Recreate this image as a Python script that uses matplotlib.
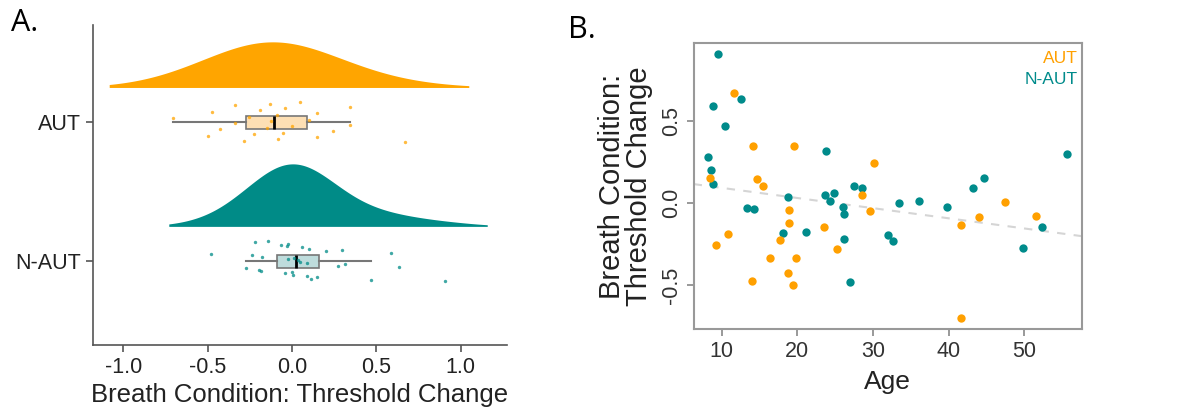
import matplotlib
matplotlib.use("Agg")
import matplotlib.pyplot as plt
import numpy as np

plt.rcParams["font.family"] = ["Liberation Sans", "DejaVu Sans"]

ORANGE = "#FFA500"
TEAL = "#008B87"

groups = ["N-AUT", "AUT"]

# threshold change per participant, with age
aut_age = [11.6, 14.1, 19.6, 30.1, 8.45, 14.7, 15.5, 28.6, 47.4, 18.9, 29.6, 44.0, 51.5,
           18.9, 41.7, 23.5, 10.8, 17.7, 9.2, 25.3, 16.45, 19.8, 18.8, 14.0, 19.4, 41.7]
aut_change = [0.669, 0.343, 0.347, 0.243, 0.149, 0.147, 0.100, 0.047, 0.002, -0.043, -0.053,
              -0.086, -0.082, -0.124, -0.133, -0.149, -0.190, -0.224, -0.255, -0.282, -0.339,
              -0.339, -0.427, -0.476, -0.500, -0.704]
naut_age = [9.5, 12.5, 8.9, 10.5, 8.2, 8.55, 8.8, 23.8, 55.7, 44.75, 43.2, 27.5, 28.6, 23.7,
            24.9, 24.35, 18.8, 13.3, 14.3, 26.1, 26.2, 33.5, 36.05, 39.75, 18.1, 21.2, 26.2,
            32.0, 32.7, 52.3, 49.8, 27.0]
naut_change = [0.908, 0.633, 0.586, 0.469, 0.276, 0.202, 0.114, 0.314, 0.294, 0.149, 0.092,
               0.102, 0.092, 0.049, 0.059, 0.008, 0.033, -0.031, -0.041, -0.024, -0.067,
               -0.002, 0.012, -0.024, -0.182, -0.176, -0.220, -0.196, -0.235, -0.145, -0.273,
               -0.480]


def bw_nrd0(x):
    x = np.asarray(x)
    q1, q3 = np.percentile(x, [25, 75])
    return 0.9 * min(x.std(ddof=1), (q3 - q1) / 1.34) * len(x) ** -0.2


def kde(x, adjust=2.5):
    # like ggplot's ydensity: range padded by 3*bw, kernel width bw*adjust
    x = np.asarray(x)
    bw = bw_nrd0(x)
    grid = np.linspace(x.min() - 3 * bw, x.max() + 3 * bw, 400)
    h = bw * adjust
    d = np.exp(-0.5 * ((grid[:, None] - x[None, :]) / h) ** 2).sum(1)
    return grid, d / (len(x) * h * np.sqrt(2 * np.pi))


def raincloud(ax):
    data = {"AUT": (aut_change, ORANGE, "#FDDFB4"), "N-AUT": (naut_change, TEAL, "#BEDCDC")}
    dens = {g: kde(v[0]) for g, v in data.items()}
    k = 0.45 / max(d.max() for _, d in dens.values())
    for pos, g in enumerate(groups, 1):
        vals, col, light = data[g]
        grid, d = dens[g]
        base = pos + 0.25
        ax.fill_between(grid, base, base + d * k, color=col, lw=0)
        ax.boxplot(vals, positions=[pos], vert=False, widths=0.095, patch_artist=True,
                   showfliers=False, showcaps=False,
                   boxprops=dict(facecolor=light, edgecolor="#777777", lw=1.2),
                   whiskerprops=dict(color="#777777", lw=1.5),
                   medianprops=dict(color="black", lw=2))
        n = len(vals)
        off = (((np.arange(n) * 11) % n) / (n - 1) - 0.5) * 0.29
        ax.scatter(vals, pos + off, s=6, color=col, alpha=0.75, lw=0, zorder=3)
    ax.set_yticks([1, 2], groups)
    ax.set_ylim(0.396, 2.70)
    ax.set_xlim(-1.18, 1.275)
    ax.set_xticks([-1, -0.5, 0, 0.5, 1], ["-1.0", "-0.5", "0.0", "0.5", "1.0"])
    ax.set_xlabel("Breath Condition: Threshold Change", fontsize=18.5, color="#222222", labelpad=4)
    ax.tick_params(labelsize=15.5, labelcolor="#222222", color="#555555", length=5, width=1.2)
    for s in ["top", "right"]:
        ax.spines[s].set_visible(False)
    for s in ["left", "bottom"]:
        ax.spines[s].set_color("#555555"); ax.spines[s].set_linewidth(1.2)


def age_scatter(ax):
    ax.scatter(naut_age, naut_change, s=36, color="#008B8B", lw=0, zorder=3)
    ax.scatter(aut_age, aut_change, s=36, color="#FFA000", lw=0, zorder=3)
    ax.margins(0.04)
    xs = np.array(aut_age + naut_age); ys = np.array(aut_change + naut_change)
    slope, icpt = np.polyfit(xs, ys, 1)
    xl = np.array(ax.get_xlim())
    ax.plot(xl, icpt + slope * xl, ls=(0, (4, 4)), color="#D5D5D5", lw=1.5, zorder=2)
    ax.set_xlim(xl)
    ax.set_xticks([10, 20, 30, 40, 50])
    ax.set_yticks([-0.5, 0, 0.5], ["-0.5", "0.0", "0.5"])
    for lab in ax.get_yticklabels():
        lab.set_rotation(90); lab.set_va("center")
    ax.tick_params(labelsize=15.5, labelcolor="#333333", color="#888888", length=5, width=1.2)
    ax.set_xlabel("Age", fontsize=19, color="#222222", labelpad=6)
    ax.set_ylabel("Breath Condition:\nThreshold Change", fontsize=21, color="#222222",
                  linespacing=0.95, labelpad=6)
    for s in ax.spines.values():
        s.set_color("#999999"); s.set_linewidth(1.5)
    narrow = ["Liberation Sans Narrow", "Liberation Sans"]
    ax.text(0.99, 0.972, "AUT", color="#FFA000", fontsize=12.5, ha="right", va="top",
            transform=ax.transAxes, family=narrow)
    ax.text(0.99, 0.900, "N-AUT", color="#008B8B", fontsize=12.5, ha="right", va="top",
            transform=ax.transAxes, family=narrow)


fig = plt.figure(figsize=(11.96, 4.13), dpi=100)
ax1 = fig.add_axes([0.0778, 0.1646, 0.346, 0.775])
ax2 = fig.add_axes([0.580, 0.2034, 0.3244, 0.6925])
raincloud(ax1)
age_scatter(ax2)
fig.text(0.009, 0.925, "A.", fontsize=22, family=["Open Sans", "DejaVu Sans"], color="black")
fig.text(0.475, 0.908, "B.", fontsize=22, family=["Open Sans", "DejaVu Sans"], color="black")
fig.savefig("out.png", dpi=100)
